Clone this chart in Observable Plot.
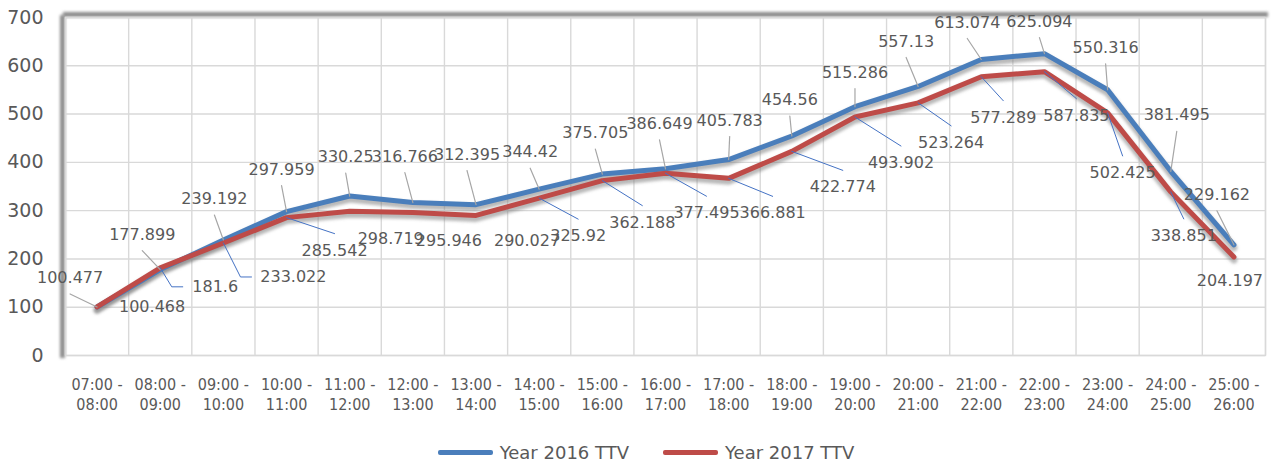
<!DOCTYPE html>
<html><head><meta charset="utf-8">
<script src="https://cdn.jsdelivr.net/npm/d3@7"></script>
<script src="https://cdn.jsdelivr.net/npm/@observablehq/plot@0.6"></script>
<style>
body{margin:0;background:#fff;}
#legend{height:22px;padding-top:11px;display:flex;justify-content:center;align-items:center;font-family:"DejaVu Sans";font-size:18px;color:#595959;padding-left:20px;}
.item{display:flex;align-items:center;margin:0 17px;}
.sw{display:inline-block;width:55px;height:5px;border-radius:2px;margin-right:7px;}
</style>
</head><body><div id="chart"></div><div id="legend"></div>
<script>
const categories = ["07:00 - 08:00","08:00 - 09:00","09:00 - 10:00","10:00 - 11:00","11:00 - 12:00","12:00 - 13:00","13:00 - 14:00","14:00 - 15:00","15:00 - 16:00","16:00 - 17:00","17:00 - 18:00","18:00 - 19:00","19:00 - 20:00","20:00 - 21:00","21:00 - 22:00","22:00 - 23:00","23:00 - 24:00","24:00 - 25:00","25:00 - 26:00"];
const ttv2016 = [100.477,177.899,239.192,297.959,330.25,316.766,312.395,344.42,375.705,386.649,405.783,454.56,515.286,557.13,613.074,625.094,550.316,381.495,229.162];
const ttv2017 = [100.468,181.6,233.022,285.542,298.719,295.946,290.027,325.92,362.188,377.495,366.881,422.774,493.902,523.264,577.289,587.835,502.425,338.851,204.197];
const seriesNames = ["Year 2016 TTV","Year 2017 TTV"];
const seriesColors = ["#4a7ebb","#be4b48"];
const yTicks = [0,100,200,300,400,500,600,700];

// label placement (pixel offsets from the point), layout only
const off2016 = [[-27,-29],[-18,-35],[-9,-41],[-5,-42],[-4,-39],[-8,-46],[-9,-50],[-9,-37],[-7,-41],[-6,-45],[1,-39],[-2,-36],[0,-34],[-12,-45],[-14,-37],[-5,-32],[-2,-42],[6,-56],[-17,-50]];
const off2017 = [[55,0],[55,19],[70,34],[48,33],[41,28],[36,28],[51,25],[39,38],[40,42],[41,40],[44,35],[51,36],[46,46],[33,40],[22,41],[32,44],[15,60],[13,44],[-4,24]];

const W = 1272, H = 430, mL = 65, mR = 7, mT = 17, mB = 75;
const kx = (W - mL - mR) / categories.length;
const ky = (H - mT - mB) / 700;

const toRows = (vals, s) => vals.map((v, i) => ({i, v, s}));
const rows = [...toRows(ttv2016, 0), ...toRows(ttv2017, 1)];

const labels = [];
const leaders = [];
[[ttv2016, off2016, 0], [ttv2017, off2017, 1]].forEach(([vals, offs, s]) => {
  vals.forEach((v, i) => {
    const [dx, dy] = offs[i];
    const lx = i + dx / kx, ly = v - dy / ky;
    const text = String(v);
    labels.push({lx, ly, text, s});
    const id = s + "-" + i;
    if (s === 0) {
      leaders.push({id, s, x: lx, y: ly - 16 / ky});
      leaders.push({id, s, x: i, y: v});
    } else {
      const tw = text.length * 9.4;
      if (dx >= 55 && dy > 10) {
        const left = dx - tw / 2;
        leaders.push({id, s, x: i, y: v});
        leaders.push({id, s, x: i + (left - 20) / kx, y: ly});
        leaders.push({id, s, x: i + (left - 9) / kx, y: ly});
      } else if (dy >= 30) {
        leaders.push({id, s, x: i, y: v});
        leaders.push({id, s, x: lx, y: ly + 17 / ky});
      }
    }
  });
});

const bounds = categories.map((_, i) => i - 0.5).concat(categories.length - 0.5);

const plot = Plot.plot({
  width: W, height: H,
  marginLeft: mL, marginRight: mR, marginTop: mT, marginBottom: mB,
  style: {fontFamily: "DejaVu Sans", color: "#595959", background: "white"},
  x: {type: "linear", domain: [-0.5, categories.length - 0.5]},
  y: {domain: [0, 700]},
  marks: [
    Plot.frame({anchor: "left", stroke: "#8c8c8c", strokeWidth: 5, dx: -3, ariaDescription: "shadow"}),
    Plot.frame({anchor: "top", stroke: "#8c8c8c", strokeWidth: 5, dy: -3, ariaDescription: "shadow"}),
    Plot.gridY(yTicks, {stroke: "#d9d9d9", strokeOpacity: 1, strokeWidth: 1.4}),
    Plot.gridX(bounds, {stroke: "#d9d9d9", strokeOpacity: 1, strokeWidth: 1.4}),
    Plot.frame({stroke: "#d9d9d9", strokeWidth: 1.4}),
    Plot.axisY(yTicks, {tickSize: 0, tickPadding: 22, fontSize: 19, fill: "#595959"}),
    Plot.axisX(categories.map((_, i) => i), {
      tickSize: 0, tickPadding: 20, fontSize: 16, fontFamily: "DejaVu Sans Condensed", fill: "#595959",
      lineHeight: 1.25, tickFormat: i => categories[i].replace(" - ", " -\n"), label: null
    }),
    Plot.line(rows, {x: "i", y: "v", z: "s", stroke: "#808080", strokeOpacity: 0.55, strokeWidth: 7, dy: 3, ariaDescription: "shadow"}),
    Plot.line(rows.filter(d => d.s === 0), {x: "i", y: "v", stroke: seriesColors[0], strokeWidth: 5}),
    Plot.line(rows.filter(d => d.s === 1), {x: "i", y: "v", stroke: seriesColors[1], strokeWidth: 5}),
    Plot.line(leaders.filter(d => d.s === 0), {x: "x", y: "y", z: "id", stroke: "#a6a6a6", strokeWidth: 1.2}),
    Plot.line(leaders.filter(d => d.s === 1), {x: "x", y: "y", z: "id", stroke: "#4472c4", strokeWidth: 1}),
    Plot.text(labels, {x: "lx", y: "ly", text: "text", fill: "#595959", fontSize: 16, fontFamily: "DejaVu Sans"})
  ]
});

const ns = "http://www.w3.org/2000/svg";
const defs = document.createElementNS(ns, "defs");
defs.innerHTML = `<filter id="blurf" filterUnits="userSpaceOnUse" x="0" y="0" width="${W}" height="${H}"><feGaussianBlur stdDeviation="1.6"/></filter>`;
plot.insertBefore(defs, plot.firstChild);
plot.querySelectorAll('[aria-description="shadow"]').forEach(g => g.setAttribute("filter", "url(#blurf)"));
document.getElementById("chart").appendChild(plot);

const legend = document.getElementById("legend");
seriesNames.forEach((n, k) => {
  const it = document.createElement("div");
  it.className = "item";
  it.innerHTML = `<span class="sw" style="background:${seriesColors[k]}"></span><span>${n}</span>`;
  legend.appendChild(it);
});
</script>
</body></html>
